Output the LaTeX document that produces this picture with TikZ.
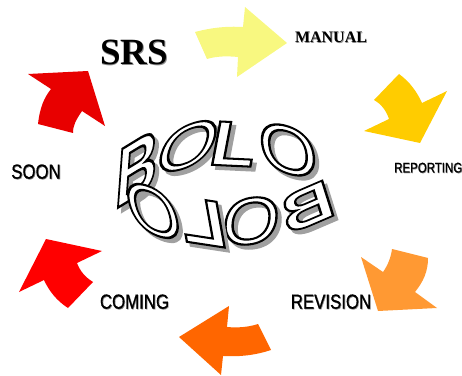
\documentclass[tikz,border=0pt]{standalone}
\usepackage{fontspec}
\setmainfont{Liberation Serif}
\newfontfamily\narrowsans[FakeStretch=0.82,FakeBold=0.5]{Liberation Sans}
\newfontfamily\bolofont[FakeBold=3.2]{Liberation Sans Bold}
\newfontfamily\bololight[FakeBold=3.2]{Liberation Sans}
\definecolor{srsred}{HTML}{E80000}
\definecolor{manualyellow}{HTML}{F8F880}
\definecolor{reportgold}{HTML}{FFCC00}
\definecolor{revisionorange}{HTML}{FF9933}
\definecolor{comingorange}{HTML}{FF6600}
\definecolor{soonred}{HTML}{FF0000}
\definecolor{boloshade}{HTML}{A0A0A0}
\newcommand{\softshade}[1]{\rlap{\kern.7pt\raisebox{-.7pt}{\color{black!45}#1}}#1}
\newcommand{\bololetter}[4]{%
  \node[boloback,cm={#3,(0,0)}] (#1s) at ($(#2)+(4,-4)$) {#4};
  \node[boloface,cm={#3,(0,0)}] (#1) at (#2) {\special{pdf:code 0 G 1 g}#4};
}
\usetikzlibrary{calc}
\tikzset{
  cyclearrow/.style={fill=#1,draw=none},
  serifbold/.style={font=\bfseries,inner sep=0pt},
  sanslabel/.style={font=\narrowsans\fontsize{#1}{#1}\selectfont,inner sep=0pt},
  boloback/.style={transform shape,inner sep=0pt,text=boloshade,font=\bolofont\fontsize{70}{70}\selectfont},
  boloface/.style={transform shape,inner sep=0pt,font=\bolofont\fontsize{70}{70}\selectfont}
}
\begin{document}
\begin{tikzpicture}[x=1pt,y=1pt]
  \useasboundingbox (0,0) rectangle (462,375);
  % arrows, clockwise from SRS
  \fill[cyclearrow=srsred] (28,301) -- (88,304) -- (105,249) -- (82,264)
    .. controls (76,255) and (73,250) .. (73,242) -- (38,251)
    .. controls (40,268) and (44,277) .. (51,286) -- cycle;
  \fill[cyclearrow=manualyellow] (195,343) .. controls (210,347) and (225,349) .. (243,348)
    -- (245,368) -- (287,332) -- (237,298) -- (238,318)
    .. controls (228,319) and (217,319) .. (207,316) -- cycle;
  \fill[cyclearrow=reportgold] (399,301) .. controls (410,293) and (417,283) .. (422,272)
    -- (447,284) -- (420,232) -- (364,244) -- (389,256)
    .. controls (386,265) and (381,271) .. (374,275) -- cycle;
  \fill[cyclearrow=revisionorange] (392,126) -- (428,117)
    .. controls (428,103) and (423,93) .. (415,83)
    -- (437,67) -- (378,64) -- (361,118) -- (383,103)
    .. controls (388,110) and (391,118) .. (392,126) -- cycle;
  \fill[cyclearrow=comingorange] (179,38) -- (229,69) -- (227,48)
    .. controls (238,47) and (249,48) .. (258,51) -- (271,25)
    .. controls (256,20) and (240,18) .. (223,19) -- (221,0) -- cycle;
  \fill[cyclearrow=soonred] (46,136) -- (102,124) -- (77,112)
    .. controls (80,104) and (85,98) .. (93,93) -- (68,67)
    .. controls (57,74) and (49,84) .. (44,95) -- (19,83) -- cycle;
  % labels
  \node[serifbold,font=\bfseries\fontsize{37}{37}\selectfont] (srs) at (134,322) {\softshade{SRS}};
  \node[serifbold,font=\bfseries\fontsize{16}{16}\selectfont] (manual) at (331,337) {\softshade{MANUAL}};
  \node[sanslabel=14,anchor=west] (reporting) at (394,207) {\softshade{REPORTING}};
  \node[sanslabel=20.5] (revision) at (331,73) {\softshade{REVISION}};
  \node[sanslabel=20.5] (coming) at (134.5,73) {\softshade{COMING}};
  \node[sanslabel=20.5] (soon) at (36,203) {\softshade{SOON}};
  % centre word, top row
  \bololetter{bt}{137,207}{.82,.5,.09,1.22}{B}
  \bololetter{ot}{188,229}{1.1,.32,.27,.94}{\bololight O}
  \bololetter{lt}{234,231}{1.06,-.05,.17,.9}{L}
  \bololetter{ou}{288,225}{1.08,-.28,-.1,.98}{\bololight O}
  % centre word, mirrored row
  \bololetter{bb}{307,168}{-1.0,-.43,-.23,.73}{B}
  \bololetter{ob}{251,154}{-1.06,-.09,.11,.95}{\bololight O}
  \bololetter{lb}{203,153}{-1.05,.16,-.17,.95}{L}
  \bololetter{oc}{153,164}{-.98,.3,-.27,1.03}{\bololight O}
\end{tikzpicture}
\end{document}
